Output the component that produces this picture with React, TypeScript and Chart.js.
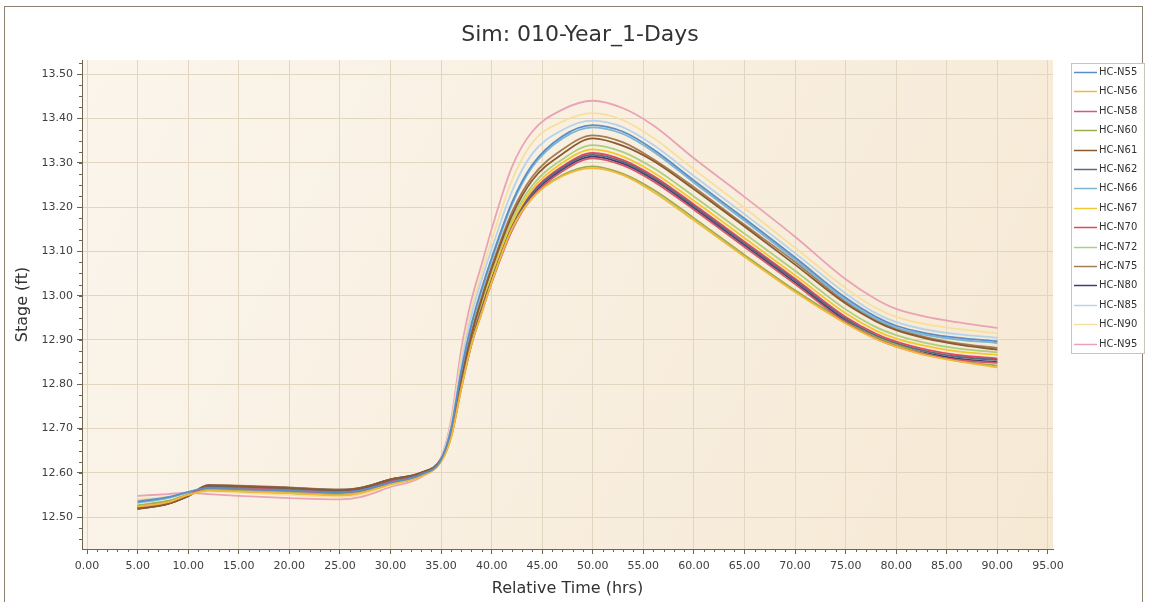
import React, { useEffect, useRef } from 'react';
import { Chart, registerables } from 'chart.js';

Chart.register(...registerables);

const CHART_TITLE = 'Sim: 010-Year_1-Days';
const X_TITLE = 'Relative Time (hrs)';
const Y_TITLE = 'Stage (ft)';

const TIME = [5, 8, 10, 12, 15, 20, 25, 27, 30, 33, 35, 36, 37, 38, 39, 40, 42, 44, 47, 50, 53, 56, 60, 65, 70, 75, 78, 80, 83, 86, 90];

const HC_N55 = [12.535, 12.545, 12.557, 12.566, 12.563, 12.560, 12.556, 12.560, 12.578, 12.596, 12.630, 12.700, 12.830, 12.935, 13.015, 13.085, 13.210, 13.295, 13.360, 13.385, 13.370, 13.330, 13.260, 13.174, 13.086, 12.995, 12.952, 12.932, 12.915, 12.905, 12.897];
const HC_N56 = [12.524, 12.534, 12.550, 12.560, 12.558, 12.554, 12.549, 12.554, 12.574, 12.592, 12.625, 12.680, 12.790, 12.890, 12.960, 13.030, 13.150, 13.220, 13.270, 13.288, 13.272, 13.234, 13.170, 13.088, 13.008, 12.937, 12.902, 12.885, 12.865, 12.852, 12.838];
const HC_N58 = [12.523, 12.534, 12.550, 12.566, 12.564, 12.560, 12.555, 12.559, 12.579, 12.596, 12.627, 12.684, 12.793, 12.890, 12.963, 13.029, 13.146, 13.222, 13.281, 13.310, 13.294, 13.258, 13.194, 13.110, 13.026, 12.940, 12.903, 12.885, 12.867, 12.855, 12.848];
const HC_N60 = [12.526, 12.536, 12.551, 12.561, 12.559, 12.555, 12.550, 12.555, 12.575, 12.593, 12.626, 12.681, 12.790, 12.888, 12.960, 13.030, 13.150, 13.220, 13.272, 13.292, 13.275, 13.239, 13.175, 13.092, 13.012, 12.941, 12.906, 12.889, 12.868, 12.853, 12.842];
const HC_N61 = [12.518, 12.530, 12.548, 12.572, 12.570, 12.566, 12.561, 12.566, 12.585, 12.600, 12.630, 12.690, 12.810, 12.910, 12.990, 13.060, 13.180, 13.260, 13.320, 13.355, 13.338, 13.304, 13.240, 13.156, 13.070, 12.982, 12.942, 12.922, 12.903, 12.890, 12.878];
const HC_N62 = [12.520, 12.531, 12.548, 12.570, 12.569, 12.565, 12.560, 12.564, 12.584, 12.599, 12.629, 12.686, 12.797, 12.895, 12.970, 13.036, 13.154, 13.230, 13.289, 13.318, 13.302, 13.266, 13.202, 13.118, 13.034, 12.948, 12.910, 12.892, 12.874, 12.862, 12.855];
const HC_N66 = [12.532, 12.543, 12.556, 12.565, 12.562, 12.559, 12.555, 12.559, 12.577, 12.595, 12.630, 12.698, 12.828, 12.932, 13.010, 13.080, 13.205, 13.290, 13.355, 13.380, 13.365, 13.325, 13.255, 13.169, 13.081, 12.990, 12.947, 12.928, 12.911, 12.901, 12.893];
const HC_N67 = [12.525, 12.535, 12.550, 12.561, 12.559, 12.555, 12.550, 12.555, 12.575, 12.593, 12.628, 12.686, 12.800, 12.900, 12.976, 13.044, 13.163, 13.240, 13.300, 13.330, 13.314, 13.278, 13.214, 13.130, 13.046, 12.960, 12.921, 12.903, 12.886, 12.874, 12.866];
const HC_N70 = [12.522, 12.533, 12.549, 12.568, 12.566, 12.562, 12.557, 12.561, 12.581, 12.597, 12.628, 12.685, 12.798, 12.897, 12.972, 13.039, 13.157, 13.233, 13.292, 13.322, 13.306, 13.270, 13.206, 13.122, 13.038, 12.952, 12.914, 12.896, 12.878, 12.866, 12.858];
const HC_N72 = [12.527, 12.537, 12.551, 12.562, 12.560, 12.556, 12.551, 12.556, 12.576, 12.594, 12.628, 12.688, 12.805, 12.905, 12.982, 13.050, 13.170, 13.248, 13.308, 13.340, 13.324, 13.288, 13.224, 13.140, 13.056, 12.969, 12.929, 12.911, 12.893, 12.881, 12.872];
const HC_N75 = [12.520, 12.532, 12.549, 12.572, 12.571, 12.567, 12.562, 12.566, 12.585, 12.600, 12.632, 12.692, 12.815, 12.918, 12.996, 13.066, 13.188, 13.268, 13.330, 13.362, 13.346, 13.308, 13.245, 13.160, 13.076, 12.986, 12.945, 12.925, 12.906, 12.893, 12.882];
const HC_N80 = [12.519, 12.530, 12.547, 12.571, 12.570, 12.566, 12.562, 12.565, 12.585, 12.600, 12.630, 12.686, 12.795, 12.892, 12.966, 13.032, 13.150, 13.226, 13.285, 13.314, 13.298, 13.262, 13.198, 13.114, 13.030, 12.944, 12.906, 12.888, 12.870, 12.858, 12.850];
const HC_N85 = [12.537, 12.545, 12.556, 12.563, 12.560, 12.556, 12.552, 12.556, 12.575, 12.594, 12.632, 12.705, 12.845, 12.955, 13.035, 13.105, 13.235, 13.320, 13.374, 13.395, 13.380, 13.340, 13.270, 13.184, 13.096, 13.005, 12.960, 12.940, 12.923, 12.913, 12.905];
const HC_N90 = [12.540, 12.547, 12.554, 12.558, 12.555, 12.550, 12.546, 12.550, 12.572, 12.593, 12.633, 12.712, 12.860, 12.970, 13.050, 13.125, 13.260, 13.345, 13.393, 13.412, 13.396, 13.356, 13.285, 13.198, 13.108, 13.017, 12.972, 12.952, 12.935, 12.925, 12.915];
const HC_N95 = [12.548, 12.552, 12.555, 12.552, 12.548, 12.543, 12.540, 12.545, 12.568, 12.590, 12.635, 12.720, 12.880, 12.990, 13.070, 13.150, 13.290, 13.370, 13.420, 13.440, 13.423, 13.384, 13.310, 13.223, 13.133, 13.037, 12.992, 12.970, 12.952, 12.940, 12.927];

const SERIES_NAMES = ['HC-N55', 'HC-N56', 'HC-N58', 'HC-N60', 'HC-N61', 'HC-N62', 'HC-N66', 'HC-N67', 'HC-N70', 'HC-N72', 'HC-N75', 'HC-N80', 'HC-N85', 'HC-N90', 'HC-N95'];
const SERIES_VALUES = [HC_N55, HC_N56, HC_N58, HC_N60, HC_N61, HC_N62, HC_N66, HC_N67, HC_N70, HC_N72, HC_N75, HC_N80, HC_N85, HC_N90, HC_N95];
const SERIES_COLORS = ['#5b8ec4', '#f0b93a', '#d55a6e', '#9aae4e', '#8a5a30', '#5e6780', '#7bb6d6', '#f2c830', '#e04a58', '#a9cf7f', '#a47d55', '#3c4070', '#b7d3ea', '#f7dfa0', '#eaa3b5'];

const X_TICKS = [0, 5, 10, 15, 20, 25, 30, 35, 40, 45, 50, 55, 60, 65, 70, 75, 80, 85, 90, 95];
const Y_TICKS = [12.5, 12.6, 12.7, 12.8, 12.9, 13.0, 13.1, 13.2, 13.3, 13.4, 13.5];

const FONT = '"DejaVu Sans", Verdana, sans-serif';
const AXIS_DARK = '#6e6650';

const decorPlugin = {
  id: 'decor',
  beforeDraw(chart: any) {
    const { ctx, chartArea: a } = chart;
    ctx.save();
    const g = ctx.createLinearGradient(a.left, a.top, a.right, a.bottom);
    g.addColorStop(0, '#fbf5ec');
    g.addColorStop(1, '#f6e9d4');
    ctx.fillStyle = g;
    ctx.fillRect(a.left, a.top, a.right - a.left, a.bottom - a.top);
    ctx.restore();
  },
  afterDraw(chart: any) {
    const { ctx, chartArea: a, scales } = chart;
    ctx.save();
    // outer frame
    ctx.strokeStyle = '#8c8271';
    ctx.lineWidth = 1;
    ctx.strokeRect(4.5, 6.5, 1138, 640);
    // title
    ctx.fillStyle = '#333333';
    ctx.font = '22px ' + FONT;
    ctx.textAlign = 'center';
    ctx.textBaseline = 'middle';
    ctx.fillText(CHART_TITLE, 580, 35);
    // minor ticks
    ctx.strokeStyle = AXIS_DARK;
    ctx.beginPath();
    const xs = scales.x;
    for (let v = 0; v <= 95; v += 1) {
      if (v % 5 === 0) continue;
      const px = Math.round(xs.getPixelForValue(v)) + 0.5;
      ctx.moveTo(px, a.bottom);
      ctx.lineTo(px, a.bottom + 3);
    }
    const ys = scales.y;
    for (let k = 0; k <= 44; k++) {
      const v = 12.425 + k * 0.025;
      if (v < ys.min || v > ys.max) continue;
      const py = Math.round(ys.getPixelForValue(v)) + 0.5;
      ctx.moveTo(a.left - 3, py);
      ctx.lineTo(a.left, py);
    }
    ctx.stroke();
    // legend
    const lx = 1071, ly = 63, lw = 73, rowH = 19.4;
    const lh = Math.round((SERIES_NAMES.length - 1) * rowH + 18);
    ctx.fillStyle = '#ffffff';
    ctx.fillRect(lx, ly, lw, lh);
    ctx.strokeStyle = '#c9c4ba';
    ctx.strokeRect(lx + 0.5, ly + 0.5, lw, lh);
    ctx.font = '10px ' + FONT;
    ctx.textAlign = 'left';
    ctx.textBaseline = 'middle';
    SERIES_NAMES.forEach((name, i) => {
      const cy = Math.round(ly + 9 + i * rowH) + 0.5;
      ctx.strokeStyle = SERIES_COLORS[i];
      ctx.lineWidth = 1.5;
      ctx.beginPath();
      ctx.moveTo(lx + 3, cy);
      ctx.lineTo(lx + 26, cy);
      ctx.stroke();
      ctx.fillStyle = '#333333';
      ctx.fillText(name, lx + 28, cy);
    });
    ctx.restore();
  },
};

export default function App() {
  const ref = useRef<HTMLCanvasElement | null>(null);

  useEffect(() => {
    if (!ref.current) return;
    const datasets = SERIES_NAMES.map((name, i) => ({
      label: name,
      data: TIME.map((t, j) => ({ x: t, y: SERIES_VALUES[i][j] })),
      borderColor: SERIES_COLORS[i],
      backgroundColor: SERIES_COLORS[i],
      borderWidth: 1.8,
      pointRadius: 0,
      fill: false,
      cubicInterpolationMode: 'monotone' as const,
    }));

    const chart = new Chart(ref.current, {
      type: 'line',
      data: { datasets },
      plugins: [decorPlugin],
      options: {
        responsive: false,
        animation: false,
        layout: { padding: { left: 0, right: 96, top: 60, bottom: 0 } },
        plugins: {
          legend: { display: false },
          title: { display: false },
          tooltip: { enabled: false },
        },
        scales: {
          x: {
            type: 'linear',
            min: -0.5,
            max: 95.5,
            afterBuildTicks: (s: any) => {
              s.ticks = X_TICKS.map((v) => ({ value: v }));
            },
            afterFit: (s: any) => {
              s.height = 53;
            },
            ticks: {
              autoSkip: false,
              maxRotation: 0,
              padding: 6,
              color: '#404040',
              font: { family: FONT, size: 11 },
              callback: (v: any) => Number(v).toFixed(2),
            },
            grid: { color: '#e2d6c1', tickColor: AXIS_DARK, tickLength: 5 },
            border: { color: AXIS_DARK, width: 1 },
            title: {
              display: true,
              text: X_TITLE,
              color: '#333333',
              font: { family: FONT, size: 16 },
              padding: { top: 0, bottom: 4 },
            },
          },
          y: {
            type: 'linear',
            min: 12.428,
            max: 13.532,
            afterBuildTicks: (s: any) => {
              s.ticks = Y_TICKS.map((v) => ({ value: v }));
            },
            afterFit: (s: any) => {
              s.width = 82;
            },
            ticks: {
              padding: 4,
              color: '#404040',
              font: { family: FONT, size: 11 },
              callback: (v: any) => Number(v).toFixed(2),
            },
            grid: { color: '#e2d6c1', tickColor: AXIS_DARK, tickLength: 5 },
            border: { color: AXIS_DARK, width: 1 },
            title: {
              display: true,
              text: Y_TITLE,
              color: '#333333',
              font: { family: FONT, size: 16 },
              padding: { top: 13, bottom: 0 },
            },
          },
        },
      },
    });
    return () => chart.destroy();
  }, []);

  return (
    <div style={{ position: 'absolute', left: 0, top: 0, width: 1149, height: 602, background: '#ffffff' }}>
      <canvas ref={ref} width={1149} height={602} style={{ display: 'block' }} />
    </div>
  );
}
